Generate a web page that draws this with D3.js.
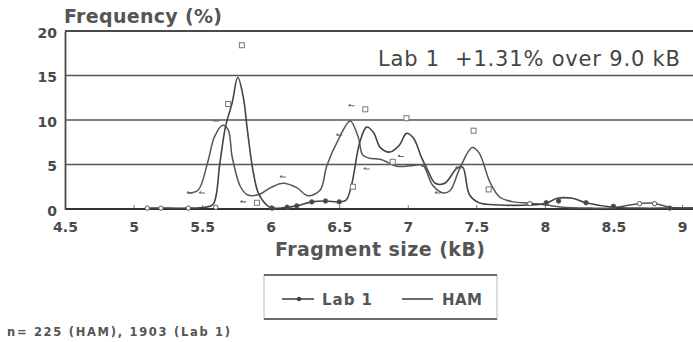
<!DOCTYPE html>
<html>
<head>
<meta charset="utf-8">
<script src="https://cdn.jsdelivr.net/npm/d3@7"></script>
<style>
  body { margin: 0; background: #fff; }
  svg { display: block; font-family: "DejaVu Sans", sans-serif; font-weight: bold; }
</style>
</head>
<body>
<svg id="chart" width="693" height="342"></svg>
<script>
// values
const xTicks = [4.5, 5, 5.5, 6, 6.5, 7, 7.5, 8, 8.5, 9];
const yTicks = [0, 5, 10, 15, 20];
const gridLevels = [5, 10, 15];

// smoothed curve of Lab 1 (dotted line in legend)
const labX = [5.1, 5.2, 5.4, 5.52, 5.58, 5.63, 5.67, 5.72, 5.76, 5.8, 5.83, 5.87, 5.91, 5.97, 6.01, 6.1, 6.19, 6.3, 6.4, 6.5, 6.55, 6.59, 6.65, 6.7, 6.75, 6.8, 6.87, 6.94, 6.99, 7.04, 7.1, 7.15, 7.2, 7.27, 7.36, 7.4, 7.45, 7.52, 7.67, 7.89, 8.01, 8.09, 8.2, 8.3, 8.5, 8.69, 8.91, 9.08];
const labY = [0.1, 0.1, 0.1, 0.2, 0.5, 5.2, 9.2, 12, 14.8, 12.6, 8.9, 4.4, 1.8, 0.45, 0.1, 0.15, 0.35, 0.8, 0.9, 0.8, 1.0, 2.7, 7.5, 9.2, 8.6, 6.9, 6.4, 7.2, 8.5, 8.0, 5.8, 4.2, 2.9, 2.9, 4.6, 4.7, 1.6, 0.7, 0.45, 0.45, 0.65, 1.2, 1.2, 0.7, 0.2, 0.1, 0.1, 0.1];

// smoothed curve of HAM
const hamX = [5.4, 5.47, 5.54, 5.59, 5.65, 5.69, 5.72, 5.78, 5.83, 5.91, 6.0, 6.09, 6.19, 6.27, 6.36, 6.41, 6.5, 6.58, 6.64, 6.67, 6.72, 6.8, 6.92, 7.04, 7.11, 7.18, 7.26, 7.31, 7.38, 7.47, 7.52, 7.6, 7.67, 7.77, 7.89, 8.01, 8.13, 8.33, 8.49, 8.62, 8.79, 8.91, 9.08];
const hamY = [1.8, 2.1, 5.2, 8.1, 9.4, 8.9, 5.8, 2.5, 1.6, 1.6, 2.4, 2.9, 2.4, 1.5, 2.1, 4.9, 8.0, 9.9, 8.0, 6.1, 5.7, 5.6, 4.8, 4.9, 4.9, 2.7, 1.8, 2.1, 4.6, 6.9, 6.3, 3.0, 1.35, 0.8, 0.65, 0.45, 0.2, 0.1, 0.1, 0.45, 0.65, 0.2, 0.1];

// dot markers on the Lab 1 line
const dotX = [5.1, 5.2, 5.4, 5.6, 6.01, 6.12, 6.19, 6.3, 6.4, 6.5, 7.89, 8.01, 8.1, 8.3, 8.5, 8.69, 8.8, 8.91];
const dotY = [0.1, 0.1, 0.1, 0.2, 0.1, 0.2, 0.35, 0.8, 0.9, 0.8, 0.6, 0.7, 0.9, 0.7, 0.3, 0.6, 0.6, 0.1];
const dotOpen = [true, true, true, true, false, false, false, false, false, false, true, false, false, false, false, true, true, false];

// open squares (raw points)
const sqX = [5.79, 5.69, 5.9, 6.6, 6.69, 6.89, 6.99, 7.48, 7.59];
const sqY = [18.4, 11.8, 0.7, 2.5, 11.2, 5.3, 10.2, 8.8, 2.2];

// small arrow marks (raw points)
const arX = [5.41, 5.5, 5.6, 5.8, 6.09, 6.59, 6.7, 6.5, 6.95, 7.12, 7.22, 7.37];
const arY = [1.8, 1.8, 9.9, 0.8, 3.6, 11.6, 4.5, 8.3, 5.9, 4.8, 1.8, 4.6];

const svg = d3.select('#chart');
const ink = '#4a4a4a';

const x = d3.scaleLinear().domain([4.5, 9]).range([65, 682]);
const y = d3.scaleLinear().domain([0, 20]).range([209, 31]);
const xEnd = 693;

// frame + grid
svg.append('line')
    .attr('x1', x(4.5)).attr('x2', xEnd).attr('y1', y(20)).attr('y2', y(20))
    .attr('stroke', ink).attr('stroke-width', 1.8);
svg.selectAll('.grid')
    .data(gridLevels)
    .join('line')
    .attr('class', 'grid')
    .attr('x1', x(4.5)).attr('x2', xEnd)
    .attr('y1', d => y(d)).attr('y2', d => y(d))
    .attr('stroke', '#555').attr('stroke-width', 1.3);

// x axis (ticks point inward)
const xAxis = svg.append('g')
    .attr('transform', `translate(0,${y(0)})`)
    .call(d3.axisBottom(x).tickValues(xTicks).tickSize(-4).tickPadding(13).tickFormat(d3.format('')));
xAxis.select('.domain').remove();
xAxis.selectAll('line').attr('stroke', '#777');
xAxis.selectAll('text')
    .attr('fill', ink).attr('font-size', '14px')
    .attr('font-family', '"DejaVu Sans", sans-serif').attr('font-weight', 'bold');
svg.append('line')
    .attr('x1', x(4.5)).attr('x2', xEnd).attr('y1', y(0)).attr('y2', y(0))
    .attr('stroke', '#333').attr('stroke-width', 2);

// y axis
const yAxis = svg.append('g')
    .attr('transform', `translate(${x(4.5)},0)`)
    .call(d3.axisLeft(y).tickValues(yTicks).tickSize(0).tickPadding(8));
yAxis.select('.domain').attr('stroke', ink).attr('stroke-width', 1.8);
yAxis.selectAll('text')
    .attr('fill', ink).attr('font-size', '14px').attr('dy', '0.45em')
    .attr('font-family', '"DejaVu Sans", sans-serif').attr('font-weight', 'bold');

// curves
const line = d3.line()
    .x(d => x(d[0]))
    .y(d => y(Math.max(0, d[1])))
    .curve(d3.curveCatmullRom.alpha(0.5));

svg.append('path')
    .datum(d3.zip(hamX, hamY))
    .attr('d', line)
    .attr('fill', 'none').attr('stroke', '#555').attr('stroke-width', 1.5);
svg.append('path')
    .datum(d3.zip(labX, labY))
    .attr('d', line)
    .attr('fill', 'none').attr('stroke', '#444').attr('stroke-width', 1.6);

// markers
svg.selectAll('.dot')
    .data(d3.range(dotX.length))
    .join('circle')
    .attr('class', 'dot')
    .attr('cx', i => x(dotX[i])).attr('cy', i => y(dotY[i]))
    .attr('r', 2.2)
    .attr('fill', i => dotOpen[i] ? '#fff' : '#444')
    .attr('stroke', '#555').attr('stroke-width', 1);

svg.selectAll('.sq')
    .data(d3.zip(sqX, sqY))
    .join('rect')
    .attr('class', 'sq')
    .attr('x', d => x(d[0]) - 2.5).attr('y', d => y(d[1]) - 2.5)
    .attr('width', 5).attr('height', 5)
    .attr('fill', '#fff').attr('stroke', '#777').attr('stroke-width', 1);

svg.selectAll('.ar')
    .data(d3.zip(arX, arY))
    .join('path')
    .attr('class', 'ar')
    .attr('transform', d => `translate(${x(d[0])},${y(d[1])})`)
    .attr('d', 'M-3,0H3M-3,0l2,-1.5')
    .attr('fill', 'none').attr('stroke', '#666').attr('stroke-width', 1.1);

// titles and notes
svg.append('text')
    .attr('x', 64).attr('y', 23)
    .attr('fill', '#555').attr('font-size', '19px')
    .attr('textLength', 158).attr('lengthAdjust', 'spacing')
    .text('Frequency (%)');

svg.append('text')
    .attr('x', 275).attr('y', 256)
    .attr('fill', '#555').attr('font-size', '19px')
    .attr('textLength', 210).attr('lengthAdjust', 'spacing')
    .text('Fragment size (kB)');

svg.append('text')
    .attr('x', 378).attr('y', 66)
    .attr('fill', '#444').attr('font-size', '21px').attr('font-weight', 'normal')
    .attr('textLength', 302).attr('lengthAdjust', 'spacing')
    .text('Lab 1\u00a0\u00a0+1.31% over 9.0 kB');

svg.append('text')
    .attr('x', 7).attr('y', 336)
    .attr('fill', '#555').attr('font-size', '11.5px')
    .attr('textLength', 223).attr('lengthAdjust', 'spacing')
    .text('n= 225 (HAM), 1903 (Lab 1)');

// legend
const lg = svg.append('g');
lg.append('rect')
    .attr('x', 264).attr('y', 275).attr('width', 233).attr('height', 44)
    .attr('fill', '#fff').attr('stroke', '#bbb').attr('stroke-width', 1);
lg.append('line').attr('x1', 264).attr('x2', 497).attr('y1', 275).attr('y2', 275)
    .attr('stroke', '#444').attr('stroke-width', 1.6);
lg.append('line').attr('x1', 264).attr('x2', 497).attr('y1', 319).attr('y2', 319)
    .attr('stroke', '#444').attr('stroke-width', 1.6);
lg.append('line').attr('x1', 282).attr('x2', 314).attr('y1', 299).attr('y2', 299)
    .attr('stroke', '#444').attr('stroke-width', 1.6);
lg.append('circle').attr('cx', 299).attr('cy', 299).attr('r', 2.2).attr('fill', '#444');
lg.append('text').attr('x', 322).attr('y', 305)
    .attr('fill', '#555').attr('font-size', '15px')
    .attr('textLength', 50).attr('lengthAdjust', 'spacing').text('Lab 1');
lg.append('line').attr('x1', 402).attr('x2', 433).attr('y1', 299).attr('y2', 299)
    .attr('stroke', '#444').attr('stroke-width', 1.6);
lg.append('text').attr('x', 442).attr('y', 305)
    .attr('fill', '#555').attr('font-size', '15px')
    .attr('textLength', 40).attr('lengthAdjust', 'spacing').text('HAM');
</script>
</body>
</html>
